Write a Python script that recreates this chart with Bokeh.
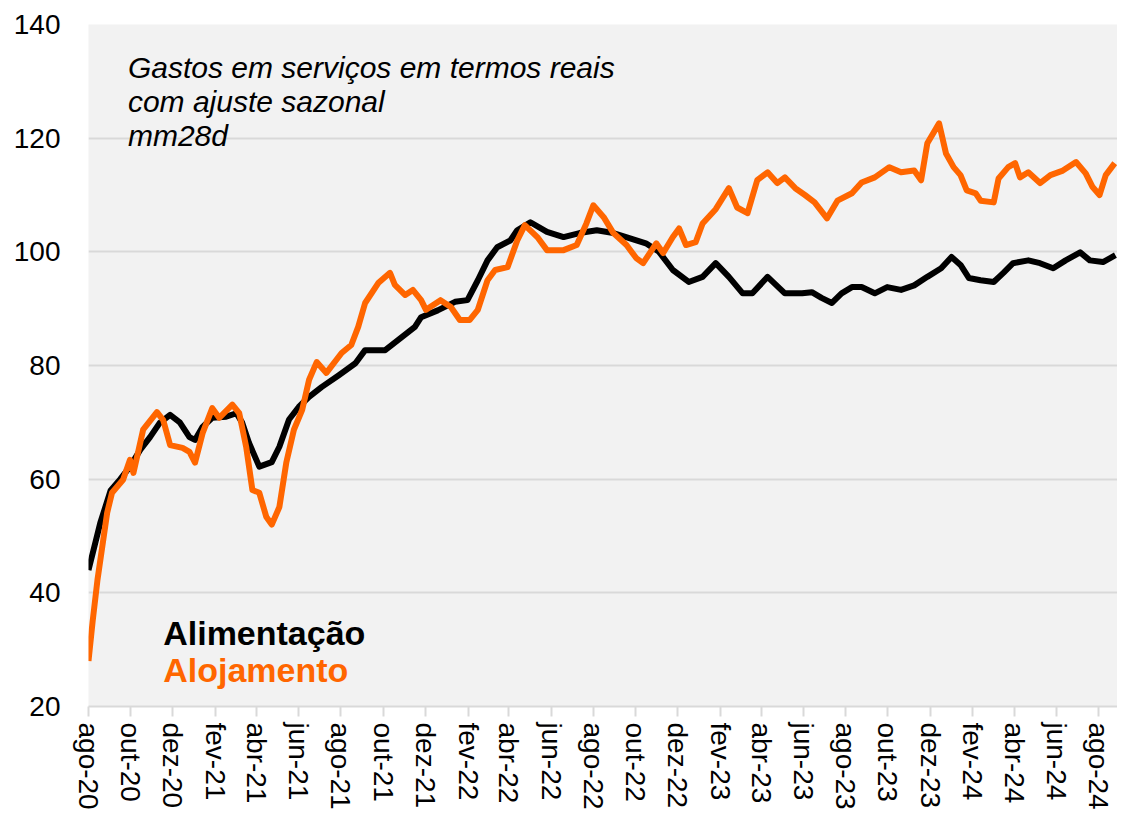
import pandas as pd
from bokeh.plotting import figure
from bokeh.models import Range1d, FixedTicker, CustomJSTickFormatter, Label
from bokeh.embed import file_html
from bokeh.resources import INLINE
import math

# ---------------- data ----------------
inicio = "2020-08-01"
meses_pt = ["jan", "fev", "mar", "abr", "mai", "jun",
            "jul", "ago", "set", "out", "nov", "dez"]

# days since 2020-08-01
dias_alimentacao = [0, 17, 32, 46, 60, 75, 89, 103, 118, 132, 146, 154, 165, 179, 199,
                    214, 222, 232, 247, 265, 276, 290, 304, 319, 337, 362, 386, 400, 429,
                    448, 472, 481, 505, 530, 548, 563, 577, 591, 610, 620, 639, 663, 687,
                    710, 735, 759, 782, 806, 825, 845, 868, 888, 907, 926, 946, 960, 982,
                    1007, 1032, 1046, 1060, 1075, 1089, 1104, 1118, 1137, 1155, 1175, 1194,
                    1213, 1233, 1248, 1261, 1273, 1290, 1309, 1323, 1337, 1359, 1376, 1395,
                    1413, 1434, 1448, 1467, 1485]
alimentacao = [44.0, 52.3, 58.0, 60.0, 62.2, 65.2, 67.4, 69.9, 71.3, 70.0, 67.4, 66.9, 69.2,
               70.8, 71.0, 71.6, 70.0, 66.4, 62.2, 63.0, 65.7, 70.5, 72.7, 74.5, 76.2, 78.3,
               80.4, 82.7, 82.7, 84.5, 86.8, 88.5, 89.7, 91.2, 91.5, 95.0, 98.5, 100.8, 102.0,
               103.8, 105.2, 103.5, 102.6, 103.3, 103.8, 103.3, 102.4, 101.5, 100.0, 96.8,
               94.7, 95.6, 98.0, 95.6, 92.7, 92.7, 95.6, 92.7, 92.7, 92.9, 91.9, 91.0, 92.7,
               93.8, 93.8, 92.7, 93.8, 93.3, 94.1, 95.6, 97.1, 99.1, 97.7, 95.4, 95.0, 94.7,
               96.3, 98.0, 98.5, 98.0, 97.1, 98.5, 99.9, 98.5, 98.2, 99.4]

dias_alojamento = [0, 6, 13, 27, 34, 50, 60, 65, 79, 99, 108, 118, 136, 146, 154, 165, 179,
                   189, 208, 218, 228, 237, 247, 257, 265, 276, 286, 297, 309, 319, 330, 344,
                   366, 380, 390, 400, 419, 436, 443, 458, 469, 481, 488, 509, 524, 537, 551,
                   563, 577, 588, 606, 620, 631, 649, 663, 687, 706, 720, 730, 745, 759, 778,
                   792, 802, 821, 831, 845, 854, 864, 878, 888, 907, 926, 938, 953, 967, 982,
                   996, 1007, 1022, 1036, 1050, 1068, 1083, 1104, 1118, 1137, 1158, 1175,
                   1194, 1204, 1213, 1230, 1240, 1251, 1261, 1270, 1283, 1290, 1309, 1316,
                   1330, 1340, 1347, 1359, 1376, 1391, 1409, 1428, 1442, 1452, 1462, 1471,
                   1484]
alojamento = [28.0, 35.0, 42.3, 54.1, 57.6, 59.9, 63.4, 61.1, 68.7, 71.8, 70.4, 66.0, 65.5,
              64.8, 62.9, 68.1, 72.5, 70.8, 73.1, 71.6, 65.7, 58.1, 57.6, 53.4, 52.0, 55.1,
              62.9, 68.7, 72.2, 77.5, 80.6, 78.7, 82.2, 83.6, 86.8, 91.0, 94.5, 96.3, 94.2,
              92.4, 93.3, 91.5, 89.8, 91.5, 90.3, 88.0, 88.0, 89.8, 95.0, 96.8, 97.3, 102.0,
              104.7, 102.6, 100.3, 100.3, 101.2, 105.0, 108.2, 106.1, 103.3, 101.2, 98.9,
              98.0, 101.5, 99.8, 102.6, 104.1, 101.2, 101.7, 105.0, 107.5, 111.2, 107.8,
              106.8, 112.6, 114.0, 112.1, 113.1, 111.2, 110.0, 108.7, 105.9, 109.0, 110.3,
              112.2, 113.1, 114.9, 114.0, 114.3, 112.6, 119.1, 122.6, 117.3, 114.9, 113.5,
              110.8, 110.3, 109.0, 108.7, 112.9, 114.9, 115.6, 113.1, 114.0, 112.1, 113.5,
              114.3, 115.8, 113.8, 111.4, 110.0, 113.5, 115.6]

nota = ["Gastos em serviços em termos reais", "com ajuste sazonal", "mm28d"]
series = ["Alimentação", "Alojamento"]
cores = ["#000000", "#ff6600"]
y_ticks = [20, 40, 60, 80, 100, 120, 140]

# ---------------- build ----------------
base = pd.Timestamp(inicio)
x_ali = base + pd.to_timedelta(dias_alimentacao, unit="D")
x_alo = base + pd.to_timedelta(dias_alojamento, unit="D")

FONT = "Liberation Sans"

p = figure(width=1117, height=812, x_axis_type="datetime",
           x_range=Range1d(base, base + pd.Timedelta(days=1488)),
           y_range=Range1d(20, 140),
           output_backend="svg", toolbar_location=None,
           min_border_left=88, min_border_right=0, min_border_top=24,
           min_border_bottom=105)

p.background_fill_color = "#f2f2f2"
p.border_fill_color = "#ffffff"
p.outline_line_color = None

p.xgrid.grid_line_color = None
p.ygrid.grid_line_color = "#d9d9d9"
p.ygrid.grid_line_width = 2

# y axis
p.yaxis.ticker = FixedTicker(ticks=y_ticks)
p.yaxis.axis_line_color = None
p.yaxis.major_tick_line_color = None
p.yaxis.minor_tick_line_color = None
p.yaxis.major_label_text_font = FONT
p.yaxis.major_label_text_font_size = "28px"
p.yaxis.major_label_text_color = "#000000"
p.yaxis.major_label_standoff = 22

# x axis
tick_dates = pd.date_range(inicio, "2024-08-01", freq="2MS")
p.xaxis.ticker = FixedTicker(ticks=[t.value / 1e6 for t in tick_dates])
p.xaxis.formatter = CustomJSTickFormatter(args=dict(meses=meses_pt), code="""
    const d = new Date(tick);
    return meses[d.getUTCMonth()] + "-" + String(d.getUTCFullYear()).slice(2);
""")
p.xaxis.major_label_orientation = -math.pi / 2
p.xaxis.axis_line_color = "#d9d9d9"
p.xaxis.axis_line_width = 2
p.xaxis.major_tick_line_color = "#d9d9d9"
p.xaxis.major_tick_line_width = 2
p.xaxis.major_tick_out = 10
p.xaxis.major_tick_in = 0
p.xaxis.minor_tick_line_color = None
p.xaxis.major_label_text_font = FONT
p.xaxis.major_label_text_font_size = "28px"
p.xaxis.major_label_text_color = "#000000"
p.xaxis.major_label_standoff = 6

# lines
p.line(x_ali, alimentacao, line_color=cores[0], line_width=6, line_join="round")
p.line(x_alo, alojamento, line_color=cores[1], line_width=6, line_join="round")

# note (italic, top left)
nota_x = base + pd.Timedelta(days=57)
for txt, yv in zip(nota, [132.5, 126.5, 120.5]):
    p.add_layout(Label(x=nota_x, y=yv, text=txt, text_font=FONT,
                       text_font_size="30px", text_font_style="italic",
                       text_color="#000000", text_baseline="alphabetic"))

# legend as coloured text
leg_x = base + pd.Timedelta(days=108)
for txt, cor, yv in zip(series, cores, [33.0, 26.5]):
    p.add_layout(Label(x=leg_x, y=yv, text=txt, text_font=FONT,
                       text_font_size="34px", text_font_style="bold",
                       text_color=cor, text_baseline="alphabetic"))

open("out.html", "w").write(file_html(p, INLINE))
